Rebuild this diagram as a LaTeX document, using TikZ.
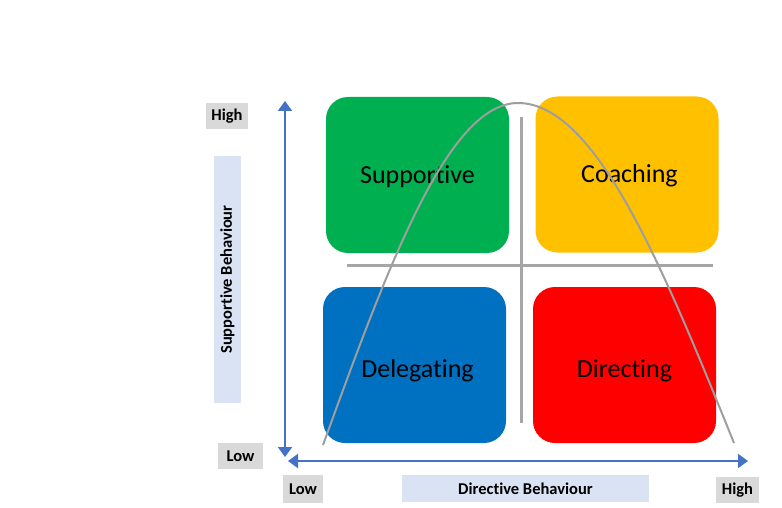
\documentclass[tikz,border=0pt]{standalone}
\usepackage{fontspec}
\setmainfont{Carlito}[Ligatures=NoCommon]
\usetikzlibrary{arrows.meta}
\definecolor{qgreen}{HTML}{00B050}
\definecolor{qyellow}{HTML}{FFC000}
\definecolor{qblue}{HTML}{0070C0}
\definecolor{qred}{HTML}{FF0000}
\definecolor{axisblue}{HTML}{4472C4}
\definecolor{lblgray}{HTML}{D9D9D9}
\definecolor{lblblue}{HTML}{DAE3F3}
\definecolor{linegray}{HTML}{A6A6A6}
\tikzset{
  quad/.style={rounded corners=22pt, minimum width=183pt, minimum height=156pt,
    inner sep=0pt, font=\fontsize{26}{30}\selectfont},
  toprow/.style={quad, text height=20pt, text depth=4pt},
  botrow/.style={quad, text height=28pt, text depth=4pt},
  lbl/.style={fill=lblgray, inner sep=0pt, font=\bfseries\fontsize{16.5}{19}\selectfont},
  axlbl/.style={fill=lblblue, inner sep=0pt, font=\bfseries\fontsize{16.5}{19}\selectfont},
  axis/.style={draw=axisblue, line width=2pt,
    {Triangle[length=10pt,width=14pt]}-{Triangle[length=10pt,width=14pt]}},
  grid/.style={draw=linegray, line width=3pt},
  curve/.style={draw=linegray!95!black, line width=2pt}
}
\begin{document}
\begin{tikzpicture}[x=1pt,y=-1pt]
\useasboundingbox[fill=white] (0,0) rectangle (782,508);
% quadrants
\node[toprow, fill=qgreen]  (sup) at (417.5,175) {Supportive};
\node[toprow, fill=qyellow] (coa) at (627,174.5) {\hspace{5pt}Coaching};
\node[botrow, fill=qblue]   (del) at (414.5,365) {\hspace{6pt}Delegating};
\node[botrow, fill=qred]    (dir) at (624.5,365) {Directing};
% grid lines
\coordinate (gvt) at (521,117);
\coordinate (gvb) at (521,423);
\coordinate (ghl) at (347,265);
\coordinate (ghr) at (713,265);
\draw[grid] (gvt) -- (gvb);
\draw[grid] (ghl) -- (ghr);
% curve
\coordinate (cL) at (323,445);
\coordinate (cT) at (518,103);
\coordinate (cR) at (734,443);
\draw[curve] (cL) sin (cT) cos (cR);
% axes
\coordinate (vtop) at (285,101);
\coordinate (vbot) at (285,457);
\coordinate (hleft) at (288,461);
\coordinate (hright) at (748,461);
\draw[axis] (vtop) -- (vbot);
\draw[axis] (hleft) -- (hright);
% labels
\node[lbl, minimum width=42pt, minimum height=26pt] (hiy) at (227,116) {High};
\node[lbl, minimum width=45pt, minimum height=26pt] (loy) at (240.5,456) {Low};
\node[lbl, minimum width=40pt, minimum height=28pt] (lox) at (303,489) {Low};
\node[lbl, minimum width=43pt, minimum height=26pt] (hix) at (737.5,490) {High};
\node[axlbl, minimum width=247pt, minimum height=27pt] (dirb) at (525.5,488.5) {Directive Behaviour};
\node[axlbl, minimum width=247pt, minimum height=27pt, rotate=90] (supb) at (227.5,279.5) {Supportive Behaviour};
\end{tikzpicture}
\end{document}
